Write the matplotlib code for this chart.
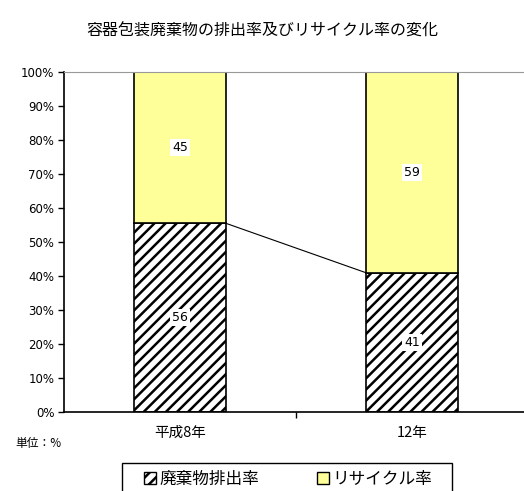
import matplotlib
matplotlib.use("Agg")
import matplotlib.pyplot as plt
from matplotlib.patches import Patch, Rectangle

plt.rcParams['font.family'] = ['Noto Sans CJK JP', 'DejaVu Sans']
plt.rcParams['hatch.linewidth'] = 1.8

# --- データ
categories = ["平成8年", "12年"]
waste_rate = [56, 41]        # 廃棄物排出率
recycle_rate = [45, 59]      # リサイクル率
series_names = ["廃棄物排出率", "リサイクル率"]

# 100%積み上げ用に正規化
totals = [w + r for w, r in zip(waste_rate, recycle_rate)]
waste_pct = [w / t * 100 for w, t in zip(waste_rate, totals)]
recycle_pct = [r / t * 100 for r, t in zip(recycle_rate, totals)]

W, H = 524, 491
fig = plt.figure(figsize=(W / 100, H / 100), dpi=100)
ax = fig.add_axes([64 / W, 79 / H, 464 / W, 340 / H])

x = list(range(len(categories)))
width = 0.4
ax.bar(x, waste_pct, width, color="white", edgecolor="black", hatch="///", linewidth=1.2)
ax.bar(x, recycle_pct, width, bottom=waste_pct, color="#FFFF99", edgecolor="black", linewidth=1.2)

# 系列線
ax.plot([x[0] + width / 2, x[1] - width / 2], [waste_pct[0], waste_pct[1]], color="black", linewidth=0.8)

# データラベル
for i in x:
    ax.text(i, waste_pct[i] / 2, str(waste_rate[i]), ha="center", va="center", fontsize=9,
            family="DejaVu Sans", bbox=dict(facecolor="white", edgecolor="none", pad=1.5))
    ax.text(i, waste_pct[i] + recycle_pct[i] / 2, str(recycle_rate[i]), ha="center", va="center", fontsize=9,
            family="DejaVu Sans", bbox=dict(facecolor="white", edgecolor="none", pad=1.5))

ax.set_xlim(-0.5, 1.5)
ax.set_ylim(0, 100)
ax.set_yticks(range(0, 101, 10))
ax.set_yticklabels([f"{v}%" for v in range(0, 101, 10)], fontsize=8.5, family="DejaVu Sans")
ax.tick_params(axis="y", length=4, width=1, pad=3)

ax.set_xticks([0.5])
ax.set_xticklabels([""])
ax.tick_params(axis="x", length=4, width=1)
for i, c in enumerate(categories):
    ax.text(i, -4, c, ha="center", va="top", fontsize=10.5, transform=ax.transData)

ax.spines["right"].set_visible(False)
ax.spines["top"].set_color("#999999")
ax.spines["left"].set_linewidth(1.2)
ax.spines["bottom"].set_linewidth(1.2)

fig.text(262 / W, 1 - 31 / H, "容器包装廃棄物の排出率及びリサイクル率の変化", ha="center", va="center", fontsize=11.5)
fig.text(15 / W, 1 - 443 / H, "単位：%", ha="left", va="center", fontsize=8.5)

# 凡例（枠は別に描く）
fig.patches.append(Rectangle((122 / W, -10 / H), 330 / W, (H - 463 + 10) / H, transform=fig.transFigure,
                             facecolor="white", edgecolor="black", linewidth=1.0))
handles = [Patch(facecolor="white", edgecolor="black", hatch="///"),
           Patch(facecolor="#FFFF99", edgecolor="black")]
fig.legend(handles, series_names, ncol=2, loc="upper left", mode="expand",
           bbox_to_anchor=(144 / W, 0, 288 / W, 1 - 471 / H),
           fontsize=12, frameon=False, handlelength=0.7, handleheight=0.7,
           handletextpad=0.2, borderpad=0, borderaxespad=0)

fig.savefig("out.png", dpi=100)
